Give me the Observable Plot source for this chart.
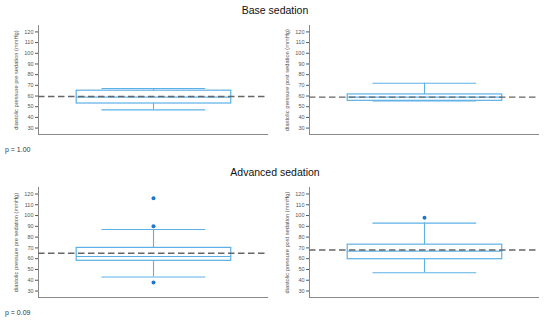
<!DOCTYPE html>
<html>
<head>
<meta charset="utf-8">
<script src="https://cdn.jsdelivr.net/npm/d3@7"></script>
<script src="https://cdn.jsdelivr.net/npm/@observablehq/plot@0.6"></script>
<style>
  html, body { margin: 0; padding: 0; background: #fff; }
  #root { position: relative; width: 550px; height: 325px; font-family: "Liberation Sans", Arial, sans-serif; overflow: hidden; }
  .abs { position: absolute; }
  .title { font-size: 10.5px; color: #111; width: 550px; text-align: center; left: 0; }
  .pval { font-size: 7px; color: #333; left: 5px; }
</style>
</head>
<body>
<div id="root"></div>
<script>
// ---- data ----
const titles = ["Base sedation", "Advanced sedation"];
const pValues = ["p = 1.00", "p = 0.09"];
const yLabels = [
  "diastolic pressure pre sedation (mmHg)",
  "diastolic pressure post sedation (mmHg)",
  "diastolic pressure pre sedation (mmHg)",
  "diastolic pressure post sedation (mmHg)"
];
const q1 = [53, 55.5, 58, 59.5];
const median = [59, 59, 62, 67];
const q3 = [65, 61.5, 70, 73];
const whiskerLow = [47, 55.5, 43, 47];
const whiskerHigh = [67, 72, 87, 93];
const meanLine = [59.5, 59, 65, 68];
const outlierPanel = [2, 2, 2, 3];
const outlierValue = [116, 90, 38, 98];
const yTicks = [30, 40, 50, 60, 70, 80, 90, 100, 110, 120];

// ---- layout ----
const root = document.getElementById("root");
const boxColor = "#5cb0e6";
const dotColor = "#1f77cc";
const BX1 = 0.166, BX2 = 0.838, CX1 = 0.276, CX2 = 0.727, MID = 0.5;
const plotTops = [20, 20, 182, 182];
const plotLefts = [0, 271, 0, 271];

function panel(i) {
  const d = {q1: q1[i], med: median[i], q3: q3[i], lo: whiskerLow[i], hi: whiskerHigh[i], mean: meanLine[i]};
  const outs = outlierValue.filter((v, k) => outlierPanel[k] === i).map(v => ({v}));
  return Plot.plot({
    width: 270,
    height: i < 2 ? 118 : 119,
    marginLeft: 38, marginRight: 2, marginTop: 5, marginBottom: 4,
    style: {fontFamily: "Liberation Sans, Arial, sans-serif", fontSize: "5.5px", color: "#555", background: "white"},
    x: {domain: [0, 1], axis: null},
    y: {domain: [24, 126], ticks: yTicks, tickSize: 3, tickPadding: 2, label: null},
    marks: [
      Plot.ruleX([0], {stroke: "#888", strokeWidth: 1}),
      Plot.ruleY([24], {stroke: "#888", strokeWidth: 1}),
      // whiskers
      Plot.ruleX([d], {x: () => MID, y1: "q3", y2: "hi", stroke: boxColor, strokeWidth: 1.1}),
      Plot.ruleX([d], {x: () => MID, y1: "lo", y2: "q1", stroke: boxColor, strokeWidth: 1.1}),
      Plot.ruleY([d], {y: "hi", x1: () => CX1, x2: () => CX2, stroke: boxColor, strokeWidth: 1.1}),
      Plot.ruleY([d], {y: "lo", x1: () => CX1, x2: () => CX2, stroke: boxColor, strokeWidth: 1.1}),
      // box
      Plot.rect([d], {x1: () => BX1, x2: () => BX2, y1: "q1", y2: "q3", fill: "white", stroke: boxColor, strokeWidth: 1.2}),
      Plot.ruleY([d], {y: "med", x1: () => BX1, x2: () => BX2, stroke: boxColor, strokeWidth: 1.1}),
      // mean dashed
      Plot.ruleY([d], {y: "mean", stroke: "#666", strokeWidth: 1.4, strokeDasharray: "6.5,3.5"}),
      // outliers
      Plot.dot(outs, {x: () => MID, y: "v", r: 2, fill: dotColor, stroke: "none"}),
      // y label
      Plot.text([yLabels[i]], {frameAnchor: "left", textAnchor: "middle", rotate: -90, dx: -22, fontSize: 5.7, fill: "#555"})
    ]
  });
}

for (let i = 0; i < 4; i++) {
  const div = document.createElement("div");
  div.className = "abs";
  div.style.left = plotLefts[i] + "px";
  div.style.top = plotTops[i] + "px";
  div.appendChild(panel(i));
  root.appendChild(div);
}

const titleTops = [4, 166];
const pTops = [146, 309];
titles.forEach((t, k) => {
  const el = document.createElement("div");
  el.className = "abs title";
  el.style.top = titleTops[k] + "px";
  el.textContent = t;
  root.appendChild(el);
});
pValues.forEach((t, k) => {
  const el = document.createElement("div");
  el.className = "abs pval";
  el.style.top = pTops[k] + "px";
  el.textContent = t;
  root.appendChild(el);
});
</script>
</body>
</html>
